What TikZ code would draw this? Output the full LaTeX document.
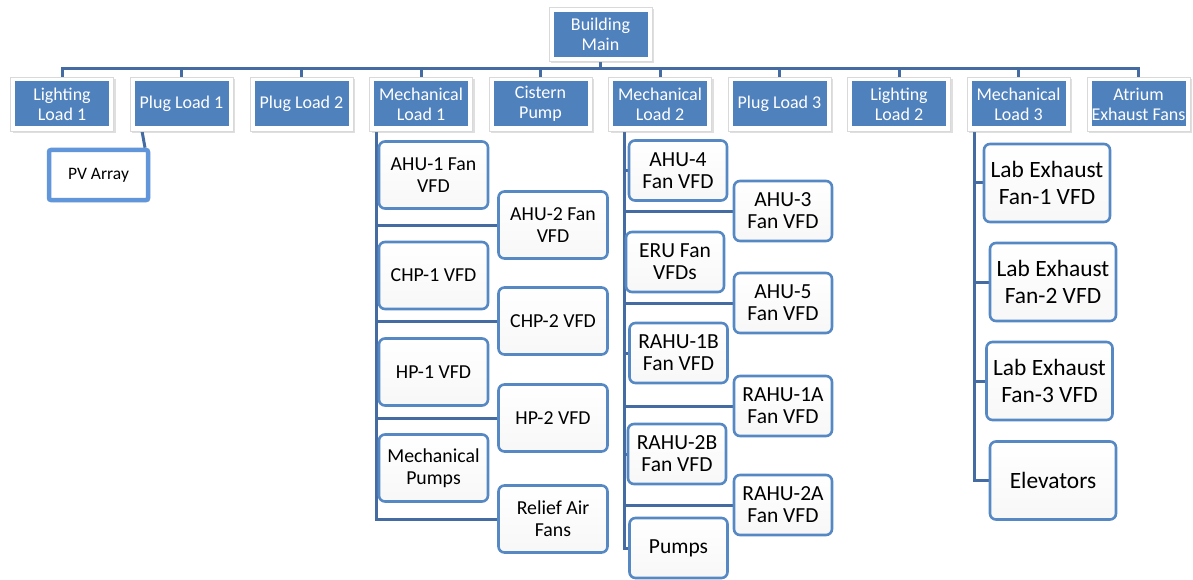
\documentclass[tikz,border=0pt]{standalone}
\usepackage{fontspec}
\setmainfont{Carlito}
\usetikzlibrary{positioning,backgrounds,shadows}
\definecolor{hdrblue}{RGB}{79,129,189}
\definecolor{wireblue}{RGB}{68,108,162}
\definecolor{leafedge}{RGB}{86,136,196}
\definecolor{pvedge}{RGB}{98,150,218}
\tikzset{
  hdr/.style={fill=white,draw=black!15,line width=0.6pt,
    minimum width=103pt,minimum height=54pt,inner sep=0pt,
    align=center,text=white,font=\fontsize{18}{20}\selectfont,
    drop shadow={shadow xshift=2pt,shadow yshift=-2pt,opacity=0.25},
    path picture={\fill[hdrblue]
      ([shift={(4.5pt,-4.5pt)}]path picture bounding box.north west) rectangle
      ([shift={(-4.5pt,4.5pt)}]path picture bounding box.south east);}},
  leaf/.style={draw=leafedge,line width=2.6pt,rounded corners=6pt,
    top color=white,bottom color=black!3,inner sep=1pt,align=center,text=black},
  leafA/.style={leaf,minimum width=109pt,minimum height=67pt,
    font=\fontsize{19.8}{21.7}\selectfont},
  leafB/.style={leaf,minimum width=98pt,minimum height=60pt,
    font=\fontsize{21.5}{22}\selectfont},
  leafC/.style={leaf,minimum width=126pt,minimum height=78pt,
    font=\fontsize{23.4}{26.7}\selectfont},
  pvbox/.style={draw=pvedge,line width=4.5pt,rounded corners=2pt,fill=white,
    minimum width=99pt,minimum height=50pt,inner sep=0pt,
    font=\fontsize{17.5}{20}\selectfont,
    drop shadow={shadow xshift=2pt,shadow yshift=-2pt,opacity=0.25}},
  wire/.style={draw=wireblue,line width=3pt}
}
\begin{document}
\begin{tikzpicture}[x=1pt,y=-1pt]
  \useasboundingbox (0,0) rectangle (1193,580);
  % top
  \node[hdr] (main) at (600.5,34.5) {Building\\Main};
  \coordinate (bus) at (600.5,69);
  % load row
  \node[hdr] (light1) at (62,104) {Lighting\\Load 1};
  \node[hdr] (plug1) at (181.5,104) {Plug Load 1};
  \node[hdr] (plug2) at (301.5,104) {Plug Load 2};
  \node[hdr] (mech1) at (421,104) {Mechanical\\Load 1};
  \node[hdr] (cistern) at (540.5,104) {Cistern\\Pump};
  \node[hdr] (mech2) at (660,104) {Mechanical\\Load 2};
  \node[hdr] (plug3) at (779.5,104) {Plug Load 3};
  \node[hdr] (light2) at (899,104) {Lighting\\Load 2};
  \node[hdr] (mech3) at (1018.5,104) {Mechanical\\Load 3};
  \node[hdr] (atrium) at (1138.5,104) {Atrium\\Exhaust Fans};
  % PV
  \node[pvbox] (pv) at (98.5,175) {PV Array};
  \coordinate (pvtap) at (142,131);
  % mechanical load 1
  \node[leafA] (ahu1) at (433.5,175) {AHU-1 Fan\\VFD};
  \node[leafA] (chp1) at (433.5,275.5) {CHP-1 VFD};
  \node[leafA] (hp1) at (433.5,372) {HP-1 VFD};
  \node[leafA] (mpumps) at (433.5,468) {Mechanical\\Pumps};
  \node[leafA] (ahu2) at (553,225) {AHU-2 Fan\\VFD};
  \node[leafA] (chp2) at (553,321) {CHP-2 VFD};
  \node[leafA] (hp2) at (553,418) {HP-2 VFD};
  \node[leafA] (relief) at (553,519) {Relief Air\\Fans};
  \coordinate (spine1) at (376,131);
  % mechanical load 2
  \node[leafB] (ahu4) at (678,170.5) {AHU-4\\Fan VFD};
  \node[leafB] (eru) at (675,262) {ERU Fan\\VFDs};
  \node[leafB] (rahu1b) at (678.5,353) {RAHU-1B\\Fan VFD};
  \node[leafB] (rahu2b) at (677,454) {RAHU-2B\\Fan VFD};
  \node[leafB] (pumps) at (678.5,548) {Pumps};
  \node[leafB] (ahu3) at (783,211) {AHU-3\\Fan VFD};
  \node[leafB] (ahu5) at (783,303) {AHU-5\\Fan VFD};
  \node[leafB] (rahu1a) at (783,406) {RAHU-1A\\Fan VFD};
  \node[leafB] (rahu2a) at (783,505) {RAHU-2A\\Fan VFD};
  \coordinate (spine2) at (624,131);
  % mechanical load 3
  \node[leafC] (lef1) at (1047,183) {Lab Exhaust\\Fan-1 VFD};
  \node[leafC] (lef2) at (1053,282) {Lab Exhaust\\Fan-2 VFD};
  \node[leafC] (lef3) at (1049.5,381) {Lab Exhaust\\Fan-3 VFD};
  \node[leafC] (elev) at (1053,480.5) {Elevators};
  \coordinate (spine3) at (974,131);
  % connectors
  \begin{scope}[on background layer]
    \draw[wire] (main) -- (bus);
    \foreach \n in {light1,plug1,plug2,mech1,cistern,mech2,plug3,light2,mech3,atrium}
      \draw[wire] (bus) -| (\n.north);
    \draw[wire] (pvtap) -- ([xshift=46.5pt]pv.north);
    \foreach \n in {ahu1,chp1,hp1,mpumps,ahu2,chp2,hp2,relief}
      \draw[wire] (spine1) |- (\n.west);
    \foreach \n in {ahu4,eru,rahu1b,rahu2b,pumps,ahu3,ahu5,rahu1a,rahu2a}
      \draw[wire] (spine2) |- (\n.west);
    \foreach \n in {lef1,lef2,lef3,elev}
      \draw[wire] (spine3) |- (\n.west);
  \end{scope}
\end{tikzpicture}
\end{document}
